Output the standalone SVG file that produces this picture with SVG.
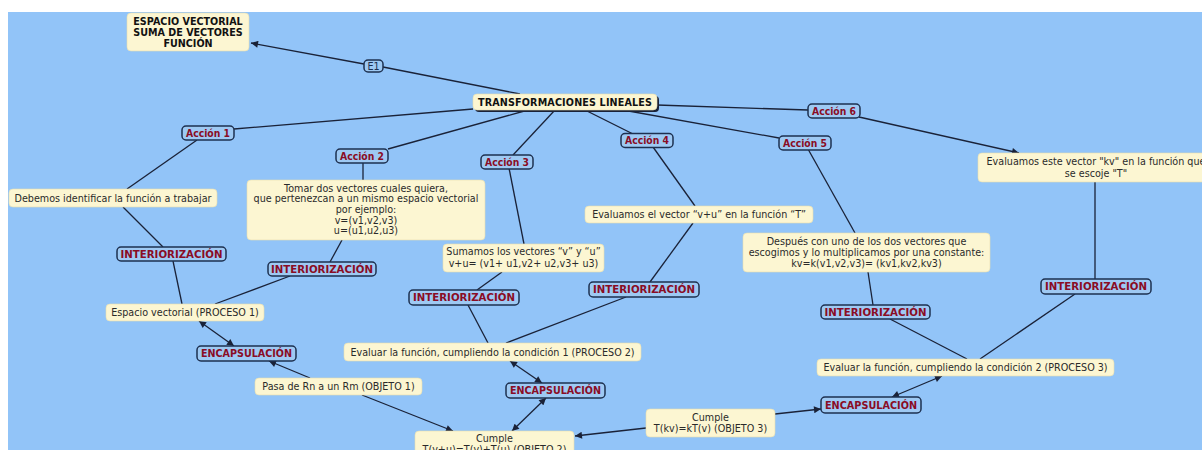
<svg xmlns="http://www.w3.org/2000/svg" width="1202" height="450" viewBox="0 0 1202 450">
  <defs>
    <marker id="arrow" viewBox="0 0 10 10" refX="10" refY="5" markerWidth="8" markerHeight="7" markerUnits="userSpaceOnUse" orient="auto-start-reverse">
      <path d="M0,0 L10,5 L0,10 Z" fill="#1a2238"/>
    </marker>
    <style>
      .bg { fill: #92c4f8; }
      .concept { fill: #fcf6d2; stroke: #e8dfb0; stroke-width: 0.6; }
      .link { fill: #9ec9f3; stroke: #1d3050; stroke-width: 1.5; }
      .t { font-family: "DejaVu Sans", Verdana, sans-serif; font-size: 9.6px; fill: #2a2a2a; text-anchor: middle; }
      .tb { font-family: "DejaVu Sans", Verdana, sans-serif; font-size: 9.6px; font-weight: bold; fill: #111; text-anchor: middle; }
      .lab { font-family: "DejaVu Sans", Verdana, sans-serif; font-size: 9.6px; font-weight: bold; fill: #8a0c24; text-anchor: middle; }
      .conn line { stroke: #1a2238; stroke-width: 1.3; fill: none; }
      .one { marker-end: url(#arrow); }
      .two { marker-start: url(#arrow); marker-end: url(#arrow); }
    </style>
  </defs>

  <!-- canvas -->
  <rect x="0" y="0" width="1202" height="450" fill="#ffffff"/>
  <rect class="bg" x="8" y="12" width="1194" height="438"/>

  <!-- connectors -->
  <g id="connectors" class="conn">
    <line x1="520" y1="94" x2="383" y2="67"/>
    <line class="one" x1="364" y1="64" x2="251" y2="43"/>
    <line x1="473" y1="109" x2="234" y2="129"/>
    <line x1="197" y1="140" x2="127" y2="189"/>
    <line x1="123" y1="207" x2="163" y2="247"/>
    <line x1="173" y1="261" x2="182" y2="304"/>
    <line x1="528" y1="110" x2="388" y2="149"/>
    <line x1="363" y1="163" x2="363" y2="180"/>
    <line x1="342" y1="240" x2="330" y2="262"/>
    <line x1="290" y1="276" x2="215" y2="304"/>
    <line x1="555" y1="110" x2="513" y2="155"/>
    <line x1="509" y1="168" x2="524" y2="244"/>
    <line x1="502" y1="272" x2="477" y2="290"/>
    <line x1="468" y1="305" x2="488" y2="343"/>
    <line x1="585" y1="110" x2="633" y2="134"/>
    <line x1="653" y1="147" x2="695" y2="206"/>
    <line x1="693" y1="223" x2="650" y2="282"/>
    <line x1="626" y1="297" x2="506" y2="343"/>
    <line x1="623" y1="110" x2="779" y2="138"/>
    <line x1="808" y1="149" x2="855" y2="233"/>
    <line x1="868" y1="272" x2="873" y2="305"/>
    <line x1="890" y1="319" x2="967" y2="359"/>
    <line x1="657" y1="105" x2="808" y2="110"/>
    <line class="one" x1="859" y1="117" x2="1019" y2="153"/>
    <line x1="1095" y1="182" x2="1095" y2="279"/>
    <line x1="1075" y1="294" x2="980" y2="359"/>
    <line class="two" x1="199" y1="321" x2="234" y2="346"/>
    <line class="one" x1="310" y1="378" x2="269" y2="361"/>
    <line class="one" x1="362" y1="395" x2="453" y2="431"/>
    <line class="two" x1="510" y1="361" x2="542" y2="383"/>
    <line class="two" x1="546" y1="398" x2="512" y2="431"/>
    <line class="one" x1="646" y1="428" x2="575" y2="436"/>
    <line class="one" x1="775" y1="414" x2="821" y2="409"/>
    <line class="two" x1="892" y1="397" x2="942" y2="376"/>
  </g>

  <!-- concepts -->
  <g id="espacio-vectorial">
    <rect class="concept" x="127" y="13" width="122" height="38" rx="4"/>
    <text class="tb" x="188" y="24.5">ESPACIO VECTORIAL</text>
    <text class="tb" x="188" y="35.5">SUMA DE VECTORES</text>
    <text class="tb" x="188" y="46.5">FUNCIÓN</text>
  </g>

  <g id="transformaciones">
    <rect x="475" y="96" width="184" height="16" rx="4" fill="#1a2238"/>
    <rect class="concept" x="473" y="94" width="184" height="16" rx="4"/>
    <text class="tb" x="565" y="105.5" textLength="174" lengthAdjust="spacing">TRANSFORMACIONES LINEALES</text>
  </g>

  <g id="e1">
    <rect class="link" x="364" y="60" width="19" height="12" rx="4" stroke-width="1.2"/>
    <text class="t" x="373.5" y="69.5" fill="#1d3050" style="fill:#1d3050">E1</text>
  </g>

  <g id="accion-1">
    <rect class="link" x="182" y="126" width="52" height="14" rx="4"/>
    <text class="lab" x="208" y="136.5" textLength="44" lengthAdjust="spacingAndGlyphs">Acción 1</text>
  </g>
  <g id="accion-2">
    <rect class="link" x="336" y="149" width="52" height="14" rx="4"/>
    <text class="lab" x="362" y="159.5" textLength="44" lengthAdjust="spacingAndGlyphs">Acción 2</text>
  </g>
  <g id="accion-3">
    <rect class="link" x="481" y="155" width="52" height="14" rx="4"/>
    <text class="lab" x="507" y="165.5" textLength="44" lengthAdjust="spacingAndGlyphs">Acción 3</text>
  </g>
  <g id="accion-4">
    <rect class="link" x="621" y="133.5" width="52" height="14" rx="4"/>
    <text class="lab" x="647" y="144" textLength="44" lengthAdjust="spacingAndGlyphs">Acción 4</text>
  </g>
  <g id="accion-5">
    <rect class="link" x="779" y="136" width="52" height="14" rx="4"/>
    <text class="lab" x="805" y="146.5" textLength="44" lengthAdjust="spacingAndGlyphs">Acción 5</text>
  </g>
  <g id="accion-6">
    <rect class="link" x="808" y="104" width="52" height="14" rx="4"/>
    <text class="lab" x="834" y="114.5" textLength="44" lengthAdjust="spacingAndGlyphs">Acción 6</text>
  </g>

  <g id="debemos">
    <rect class="concept" x="9" y="189" width="208" height="18" rx="4"/>
    <text class="t" x="113" y="201.5">Debemos identificar la función a trabajar</text>
  </g>

  <g id="tomar">
    <rect class="concept" x="247" y="180" width="238" height="60" rx="4"/>
    <text class="t" x="366" y="191.5">Tomar dos vectores cuales quiera,</text>
    <text class="t" x="366" y="202.2">que pertenezcan a un mismo espacio vectorial</text>
    <text class="t" x="366" y="212.9">por ejemplo:</text>
    <text class="t" x="366" y="223.6">v=(v1,v2,v3)</text>
    <text class="t" x="366" y="234.3">u=(u1,u2,u3)</text>
  </g>

  <g id="sumamos">
    <rect class="concept" x="443" y="244" width="161" height="28" rx="4"/>
    <text class="t" x="523.5" y="254.5">Sumamos los vectores “v” y “u”</text>
    <text class="t" x="523.5" y="266.5">v+u= (v1+ u1,v2+ u2,v3+ u3)</text>
  </g>

  <g id="evaluamos-vu">
    <rect class="concept" x="585" y="206" width="228" height="17" rx="4"/>
    <text class="t" x="699" y="218">Evaluamos el vector “v+u” en la función “T”</text>
  </g>

  <g id="despues">
    <rect class="concept" x="743" y="233" width="247" height="39" rx="4"/>
    <text class="t" x="866.5" y="244.5">Después con uno de los dos vectores que</text>
    <text class="t" x="866.5" y="255.5">escogimos y lo multiplicamos por una constante:</text>
    <text class="t" x="866.5" y="266.5">kv=k(v1,v2,v3)= (kv1,kv2,kv3)</text>
  </g>

  <g id="evaluamos-kv">
    <rect class="concept" x="978" y="153" width="236" height="29" rx="4"/>
    <text class="t" x="1096" y="165">Evaluamos este vector "kv" en la función que</text>
    <text class="t" x="1096" y="177">se escoje "T"</text>
  </g>

  <g id="interiorizacion-1">
    <rect class="link" x="117" y="247" width="109" height="14" rx="4"/>
    <text class="lab" x="171.5" y="257.5" textLength="102" lengthAdjust="spacingAndGlyphs">INTERIORIZACIÓN</text>
  </g>
  <g id="interiorizacion-2">
    <rect class="link" x="268" y="262" width="108" height="14" rx="4"/>
    <text class="lab" x="322" y="272.5" textLength="102" lengthAdjust="spacingAndGlyphs">INTERIORIZACIÓN</text>
  </g>
  <g id="interiorizacion-3">
    <rect class="link" x="409" y="290" width="110" height="15" rx="4"/>
    <text class="lab" x="464" y="301" textLength="102" lengthAdjust="spacingAndGlyphs">INTERIORIZACIÓN</text>
  </g>
  <g id="interiorizacion-4">
    <rect class="link" x="589" y="282" width="110" height="15" rx="4"/>
    <text class="lab" x="644" y="293" textLength="102" lengthAdjust="spacingAndGlyphs">INTERIORIZACIÓN</text>
  </g>
  <g id="interiorizacion-5">
    <rect class="link" x="821" y="305" width="109" height="14" rx="4"/>
    <text class="lab" x="875.5" y="315.5" textLength="102" lengthAdjust="spacingAndGlyphs">INTERIORIZACIÓN</text>
  </g>
  <g id="interiorizacion-6">
    <rect class="link" x="1041" y="279" width="110" height="15" rx="4"/>
    <text class="lab" x="1096" y="290" textLength="102" lengthAdjust="spacingAndGlyphs">INTERIORIZACIÓN</text>
  </g>

  <g id="proceso-1">
    <rect class="concept" x="106" y="304" width="158" height="17" rx="4"/>
    <text class="t" x="185" y="316">Espacio vectorial (PROCESO 1)</text>
  </g>
  <g id="proceso-2">
    <rect class="concept" x="344" y="343" width="297" height="18" rx="4"/>
    <text class="t" x="492.5" y="355.5">Evaluar la función, cumpliendo la condición 1 (PROCESO 2)</text>
  </g>
  <g id="proceso-3">
    <rect class="concept" x="817" y="359" width="297" height="17" rx="4"/>
    <text class="t" x="965.5" y="371">Evaluar la función, cumpliendo la condición 2 (PROCESO 3)</text>
  </g>

  <g id="encapsulacion-1">
    <rect class="link" x="197" y="346" width="99" height="15" rx="4"/>
    <text class="lab" x="246.5" y="357" textLength="91" lengthAdjust="spacingAndGlyphs">ENCAPSULACIÓN</text>
  </g>
  <g id="encapsulacion-2">
    <rect class="link" x="506" y="383" width="99" height="15" rx="4"/>
    <text class="lab" x="555.5" y="394" textLength="91" lengthAdjust="spacingAndGlyphs">ENCAPSULACIÓN</text>
  </g>
  <g id="encapsulacion-3">
    <rect class="link" x="821" y="397" width="100" height="16" rx="4"/>
    <text class="lab" x="871" y="408.5" textLength="92" lengthAdjust="spacingAndGlyphs">ENCAPSULACIÓN</text>
  </g>

  <g id="objeto-1">
    <rect class="concept" x="255" y="378" width="167" height="17" rx="4"/>
    <text class="t" x="338.5" y="390">Pasa de Rn a un Rm (OBJETO 1)</text>
  </g>
  <g id="objeto-2">
    <rect class="concept" x="415" y="431" width="159" height="30" rx="4"/>
    <text class="t" x="494.5" y="441.5">Cumple</text>
    <text class="t" x="494.5" y="452.5">T(v+u)=T(v)+T(u) (OBJETO 2)</text>
  </g>
  <g id="objeto-3">
    <rect class="concept" x="646" y="409" width="129" height="28" rx="4"/>
    <text class="t" x="710.5" y="420.5">Cumple</text>
    <text class="t" x="710.5" y="431.5">T(kv)=kT(v) (OBJETO 3)</text>
  </g>
</svg>
